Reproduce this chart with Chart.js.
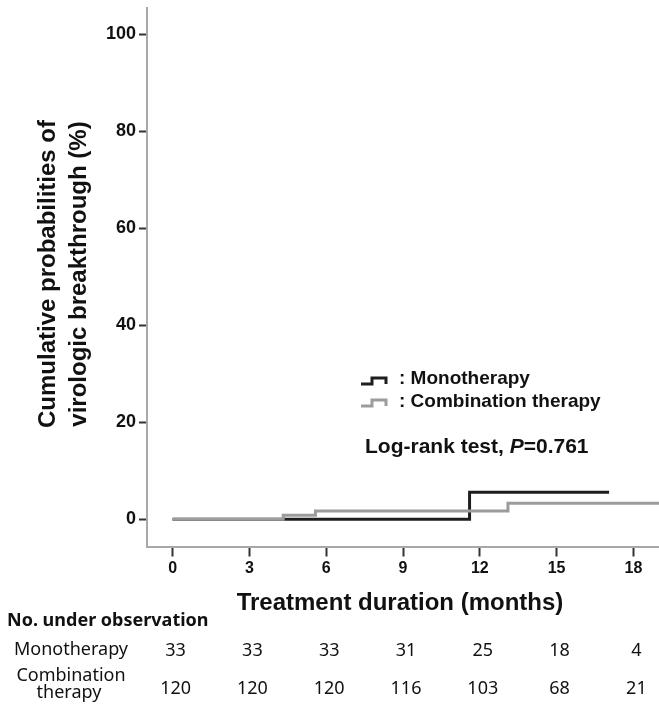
<!DOCTYPE html>
<html>
<head>
<meta charset="utf-8">
<script src="https://cdn.jsdelivr.net/npm/chart.js@4"></script>
<style>
  html, body { margin: 0; padding: 0; background: #fff; }
  #wrap { width: 659px; height: 709px; position: relative; }
</style>
</head>
<body>
<div id="wrap"><canvas id="km"></canvas></div>
<script>
// months on x, cumulative % on y
var monoTimes = [0, 11.6, 17.05];
var monoValues = [0, 5.6, 5.6];
var comboTimes = [0, 4.32, 5.58, 13.1, 19];
var comboValues = [0, 0.83, 1.7, 3.3, 3.3];

var xTicks = [0, 3, 6, 9, 12, 15, 18];
var yTicks = [0, 20, 40, 60, 80, 100];

var seriesNames = ['Monotherapy', 'Combination therapy'];
var monoAtRisk = [33, 33, 33, 31, 25, 18, 4];
var comboAtRisk = [120, 120, 120, 116, 103, 68, 21];

var BLACK = '#1e1e1e';
var GREY = '#9c9c9c';

function toPoints(ts, vs) {
  return ts.map(function(t, i) { return { x: t, y: vs[i] }; });
}

const extras = {
  id: 'extras',
  afterDraw(chart) {
    const { ctx, scales: { x } } = chart;
    ctx.save();
    ctx.fillStyle = '#111';

    // y axis title, two rotated lines
    ctx.font = 'bold 24px "Liberation Sans", Arial, sans-serif';
    ctx.textAlign = 'center';
    ctx.textBaseline = 'alphabetic';
    [['Cumulative probabilities of', 55], ['virologic breakthrough (%)', 86]].forEach(function(l) {
      ctx.save();
      ctx.translate(l[1], 274);
      ctx.rotate(-Math.PI / 2);
      ctx.fillText(l[0], 0, 0);
      ctx.restore();
    });

    // x axis title
    ctx.fillText('Treatment duration (months)', 400, 610);

    // legend
    ctx.lineWidth = 3;
    ctx.lineJoin = 'miter';
    [[BLACK, 384], [GREY, 406]].forEach(function(s) {
      var b = s[1];
      ctx.strokeStyle = s[0];
      ctx.beginPath();
      ctx.moveTo(361, b);
      ctx.lineTo(372, b);
      ctx.lineTo(372, b - 6);
      ctx.lineTo(386, b - 6);
      ctx.lineTo(386, b);
      ctx.stroke();
    });
    ctx.textAlign = 'left';
    ctx.font = 'bold 19px "Liberation Sans", Arial, sans-serif';
    ctx.fillText(': ' + seriesNames[0], 399, 384);
    ctx.fillText(': ' + seriesNames[1], 399, 406.5);

    // log-rank note
    ctx.font = 'bold 21px "Liberation Sans", Arial, sans-serif';
    var t1 = 'Log-rank test, ';
    ctx.fillText(t1, 365, 453);
    var px = 365 + ctx.measureText(t1).width;
    ctx.font = 'italic bold 21px "Liberation Sans", Arial, sans-serif';
    ctx.fillText('P', px, 453);
    px += ctx.measureText('P').width;
    ctx.font = 'bold 21px "Liberation Sans", Arial, sans-serif';
    ctx.fillText('=0.761', px, 453);

    // numbers at risk table
    ctx.font = 'bold 18px "Noto Sans", sans-serif';
    ctx.fillText('No. under observation', 7, 626);
    ctx.font = '18px "Noto Sans", sans-serif';
    ctx.textAlign = 'center';
    ctx.fillText('Monotherapy', 71, 655);
    ctx.fillText('Combination', 71, 681);
    ctx.fillText('therapy', 69, 698);
    xTicks.forEach(function(t, i) {
      var cx = x.getPixelForValue(t) + 3;
      ctx.fillText(String(monoAtRisk[i]), cx, 656);
      ctx.fillText(String(comboAtRisk[i]), cx, 694);
    });
    ctx.restore();
  }
};

var ctx = document.getElementById('km').getContext('2d');
var km = new Chart(ctx, {
  type: 'line',
  data: {
    datasets: [{
      label: seriesNames[0],
      data: toPoints(monoTimes, monoValues),
      borderColor: BLACK,
      borderWidth: 3,
      stepped: 'before',
      pointRadius: 0,
      fill: false,
      order: 1
    }, {
      label: seriesNames[1],
      data: toPoints(comboTimes, comboValues),
      borderColor: GREY,
      borderWidth: 3,
      stepped: 'before',
      pointRadius: 0,
      fill: false,
      order: 0
    }]
  },
  options: {
    responsive: true,
    maintainAspectRatio: false,
    animation: false,
    layout: { padding: { top: 8, left: 0, right: 0, bottom: 0 } },
    plugins: {
      legend: { display: false },
      tooltip: { enabled: false }
    },
    scales: {
      x: {
        type: 'linear',
        min: -1,
        max: 19,
        afterBuildTicks: function(s) { s.ticks = xTicks.map(function(v) { return { value: v }; }); },
        afterFit: function(s) {
          s.height = 162.5;
          s.paddingLeft = 0; s.paddingRight = 0;
        },
        grid: { drawOnChartArea: false, tickLength: 10, tickColor: '#333', tickWidth: 2 },
        border: { color: '#a8a8a8', width: 2 },
        ticks: {
          padding: 2,
          color: '#111',
          maxRotation: 0,
          font: { family: '"Liberation Sans", Arial, sans-serif', size: 16, weight: 'bold' }
        }
      },
      y: {
        min: -5.6,
        max: 105.4,
        afterBuildTicks: function(s) { s.ticks = yTicks.map(function(v) { return { value: v }; }); },
        afterFit: function(s) {
          s.width = 147;
          s.paddingTop = 0; s.paddingBottom = 0;
        },
        grid: { drawOnChartArea: false, tickLength: 8, tickColor: '#333', tickWidth: 2 },
        border: { color: '#a8a8a8', width: 2 },
        ticks: {
          padding: 3,
          color: '#111',
          font: { family: '"Liberation Sans Narrow", "Liberation Sans", sans-serif', size: 18, weight: 'bold' }
        }
      }
    }
  },
  plugins: [extras]
});
</script>
</body>
</html>
